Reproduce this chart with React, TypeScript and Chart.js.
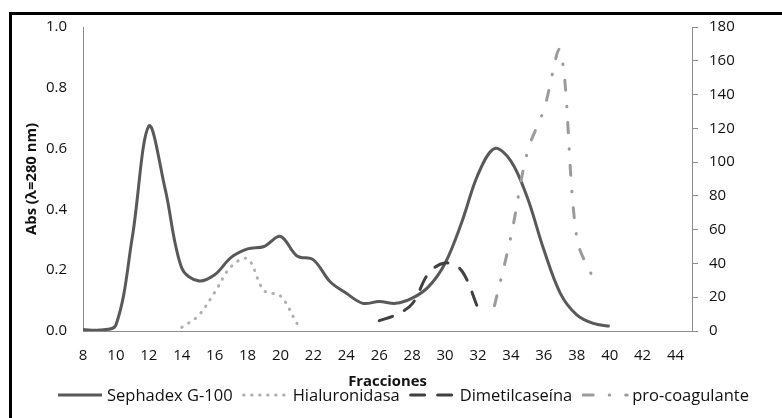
import React, { useEffect, useRef } from 'react';
import { Chart, registerables } from 'chart.js';

Chart.register(...registerables);

// Fractions (x) and values
const sephadexFractions = [8, 9, 10, 11, 12, 13, 14, 15, 16, 17, 18, 19, 20, 21, 22, 23, 24, 25, 26, 27, 28, 29, 30, 31, 32, 33, 34, 35, 36, 37, 38, 39, 40];
const sephadexAbs = [0.005, 0.003, 0.02, 0.31, 0.674, 0.465, 0.207, 0.165, 0.185, 0.242, 0.27, 0.278, 0.311, 0.247, 0.234, 0.163, 0.124, 0.091, 0.097, 0.091, 0.108, 0.146, 0.223, 0.356, 0.515, 0.6, 0.559, 0.438, 0.267, 0.124, 0.053, 0.025, 0.016];

const hialFractions = [14, 15, 16, 17, 18, 19, 20, 21];
const hialAbs = [0.012, 0.05, 0.127, 0.212, 0.237, 0.133, 0.115, 0.025];

const dimetilFractions = [26, 27, 28, 29, 30, 31, 32];
const dimetilAbs = [0.034, 0.053, 0.089, 0.19, 0.224, 0.199, 0.075];

const procoagFractions = [33, 34, 35, 36, 37, 38, 39];
const procoagValues = [15, 56, 106, 131, 166, 55, 31];

const seriesLabels = ['Sephadex G-100', 'Hialuronidasa', 'Dimetilcaseína', 'pro-coagulante'];

const xTickValues = [8, 10, 12, 14, 16, 18, 20, 22, 24, 26, 28, 30, 32, 34, 36, 38, 40, 42, 44];

const xTitle = 'Fracciones';
const yTitle = 'Abs (λ=280 nm)';

const FONT = '"Open Sans", "DejaVu Sans", sans-serif';
const TEXT = '#111111';
const AXIS = '#8c8c8c';

const toPoints = (xs: number[], ys: number[]) => xs.map((x, i) => ({ x, y: ys[i] }));

const legendPlugin = {
  id: 'customLegend',
  afterDraw(chart: any) {
    const ctx = chart.ctx as CanvasRenderingContext2D;
    ctx.save();
    ctx.font = `16.5px ${FONT}`;
    ctx.textBaseline = 'middle';
    ctx.textAlign = 'left';
    const sampleW = 44;
    const gapText = 5;
    const gapItem = 11;
    const items = chart.data.datasets.map((ds: any) => ({ ds, w: ctx.measureText(ds.label).width }));
    const total = items.reduce((s: number, it: any) => s + sampleW + gapText + it.w, 0) + gapItem * (items.length - 1);
    let x = 403.5 - total / 2;
    const y = 395;
    items.forEach((it: any) => {
      const ds = it.ds;
      ctx.save();
      ctx.strokeStyle = ds.borderColor;
      ctx.lineWidth = ds.borderWidth;
      ctx.lineCap = ds.borderCapStyle || 'butt';
      ctx.setLineDash(ds.borderDash || []);
      ctx.beginPath();
      ctx.moveTo(x, y);
      ctx.lineTo(x + sampleW, y);
      ctx.stroke();
      ctx.restore();
      ctx.fillStyle = TEXT;
      ctx.fillText(ds.label, x + sampleW + gapText, y + 1);
      x += sampleW + gapText + it.w + gapItem;
    });
    ctx.restore();
  },
};

export default function App() {
  const canvasRef = useRef<HTMLCanvasElement>(null);

  useEffect(() => {
    if (!canvasRef.current) return;
    const tickFont = { family: FONT, size: 15 };
    const titleFont = { family: FONT, size: 14.8, weight: 'bold' as const };
    const chart = new Chart(canvasRef.current, {
      type: 'line',
      data: {
        datasets: [
          {
            label: seriesLabels[0],
            data: toPoints(sephadexFractions, sephadexAbs),
            borderColor: '#595959',
            borderWidth: 3,
            tension: 0.35,
            pointRadius: 0,
            yAxisID: 'y',
            order: 4,
          },
          {
            label: seriesLabels[1],
            data: toPoints(hialFractions, hialAbs),
            borderColor: '#b0b0b0',
            borderWidth: 3,
            borderDash: [0.5, 7.5],
            borderCapStyle: 'round',
            tension: 0.35,
            pointRadius: 0,
            yAxisID: 'y',
            order: 3,
          },
          {
            label: seriesLabels[2],
            data: toPoints(dimetilFractions, dimetilAbs),
            borderColor: '#404040',
            borderWidth: 3,
            borderDash: [14, 13],
            borderCapStyle: 'round',
            tension: 0.35,
            pointRadius: 0,
            yAxisID: 'y',
            order: 2,
          },
          {
            label: seriesLabels[3],
            data: toPoints(procoagFractions, procoagValues),
            borderColor: '#9b9b9b',
            borderWidth: 3,
            borderDash: [10, 16, 0.5, 16],
            borderCapStyle: 'round',
            tension: 0.35,
            pointRadius: 0,
            yAxisID: 'y1',
            order: 1,
          },
        ],
      },
      options: {
        animation: false,
        responsive: true,
        maintainAspectRatio: false,
        events: [],
        layout: { padding: { left: 23, right: 20, top: 27, bottom: 27 } },
        plugins: { legend: { display: false }, tooltip: { enabled: false } },
        scales: {
          x: {
            type: 'linear',
            min: 8,
            max: 45,
            ticks: { stepSize: 2, padding: 16, font: tickFont, color: TEXT, autoSkip: false, maxRotation: 0 },
            grid: { display: false, drawTicks: false },
            border: { display: true, color: AXIS, width: 1 },
            title: { display: true, text: xTitle, font: titleFont, color: TEXT, padding: 0 },
            afterBuildTicks: (s: any) => {
              s.ticks = xTickValues.map((v) => ({ value: v }));
            },
            afterFit: (s: any) => {
              s.height = 60;
            },
          },
          y: {
            position: 'left',
            min: 0,
            max: 1,
            ticks: {
              stepSize: 0.2,
              padding: 16,
              font: tickFont,
              color: TEXT,
              callback: (v: any) => Number(v).toFixed(1),
            },
            grid: { display: false, drawTicks: false },
            border: { display: true, color: AXIS, width: 1 },
            title: { display: true, text: yTitle, font: titleFont, color: TEXT, padding: 0 },
            afterFit: (s: any) => {
              s.width = 60;
            },
          },
          y1: {
            position: 'right',
            min: 0,
            max: 180,
            ticks: { stepSize: 20, padding: 11, font: tickFont, color: TEXT },
            grid: { display: true, drawOnChartArea: false, drawTicks: true, tickLength: 6, color: AXIS },
            border: { display: true, color: AXIS, width: 1 },
            afterFit: (s: any) => {
              s.width = 70;
            },
          },
        },
      },
      plugins: [legendPlugin],
    } as any);
    return () => chart.destroy();
  }, []);

  return (
    <div style={{ position: 'absolute', left: 0, top: 0, width: 782, height: 418, overflow: 'hidden', background: '#fff' }}>
      <div
        style={{
          position: 'absolute',
          left: 9,
          top: 12,
          width: 820,
          height: 480,
          border: '3px solid #000',
          boxSizing: 'border-box',
        }}
      />
      <div style={{ position: 'absolute', left: 0, top: 0, width: 782, height: 418 }}>
        <canvas ref={canvasRef} />
      </div>
    </div>
  );
}
